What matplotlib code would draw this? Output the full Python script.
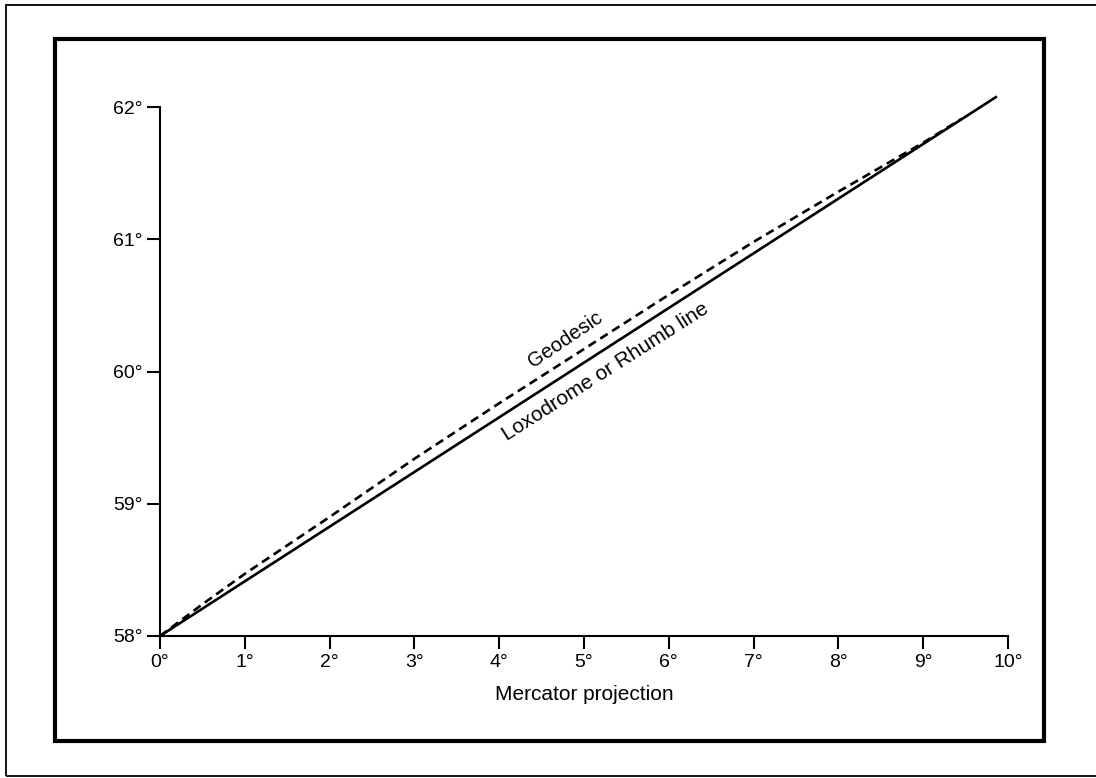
import matplotlib
matplotlib.use("Agg")
import matplotlib.pyplot as plt
from matplotlib.patches import Rectangle
import numpy as np

plt.rcParams['font.family'] = ['Liberation Sans', 'DejaVu Sans']

# Data (degrees)
x_ticks = [0, 1, 2, 3, 4, 5, 6, 7, 8, 9, 10]
x_labels = ["0°", "1°", "2°", "3°", "4°", "5°", "6°", "7°", "8°", "9°", "10°"]
y_ticks = [58, 59, 60, 61, 62]
y_labels = ["58°", "59°", "60°", "61°", "62°"]

rhumb_x = [0.0, 9.87]
rhumb_y = [58.0, 62.08]

geodesic_x = [0.0, 0.5, 1.0, 2.0, 3.0, 4.0, 5.0, 6.0, 7.0, 8.0, 9.0, 9.45]
geodesic_y = [58.0, 58.24, 58.47, 58.90, 59.34, 59.76, 60.17, 60.58, 60.98, 61.36, 61.73, 61.91]

x_label = "Mercator projection"
geo_label = "Geodesic"
rhumb_label = "Loxodrome or Rhumb line"

W, H = 1096, 778
fig = plt.figure(figsize=(W / 100, H / 100), dpi=100)
fig.patch.set_facecolor("white")

# Frames (figure pixel coordinates converted to fractions)
def fr(x0, y0, x1, y1):
    return (x0 / W, 1 - y1 / H), (x1 - x0) / W, (y1 - y0) / H

xy, w, h = fr(6, 5, 1110, 776)
fig.patches.append(Rectangle(xy, w, h, transform=fig.transFigure, fill=False,
                             edgecolor="black", linewidth=1.3))
xy, w, h = fr(55, 39, 1044, 741)
fig.patches.append(Rectangle(xy, w, h, transform=fig.transFigure, fill=False,
                             edgecolor="black", linewidth=3.0))

ax = fig.add_axes([160 / W, 1 - 636 / H, (1008 - 160) / W, (636 - 107) / H])
ax.set_xlim(0, 10)
ax.set_ylim(58, 62)
ax.patch.set_alpha(0)

for s in ["top", "right"]:
    ax.spines[s].set_visible(False)
for s in ["left", "bottom"]:
    ax.spines[s].set_linewidth(1.5)

ax.set_xticks(x_ticks)
ax.set_xticklabels(x_labels)
ax.set_yticks(y_ticks)
ax.set_yticklabels(y_labels)
ax.tick_params(axis="x", direction="out", length=9, width=1.5, pad=4, labelsize=14)
ax.tick_params(axis="y", direction="out", length=9.5, width=1.5, pad=3, labelsize=14)

ax.plot(rhumb_x, rhumb_y, color="black", linewidth=1.9, clip_on=False,
        solid_capstyle="butt")
ax.plot(geodesic_x, geodesic_y, color="black", linewidth=1.9, clip_on=False,
        linestyle=(0, (3.3, 2.0)))

ax.set_xlabel(x_label, fontsize=15, labelpad=10)

ax.text(4.78, 60.24, geo_label, fontsize=14.5, rotation=34,
        ha="center", va="center", rotation_mode="anchor")
ax.text(5.25, 60.0, rhumb_label, fontsize=15, rotation=32.5,
        ha="center", va="center", rotation_mode="anchor")

fig.savefig("out.png", dpi=100, facecolor="white")
